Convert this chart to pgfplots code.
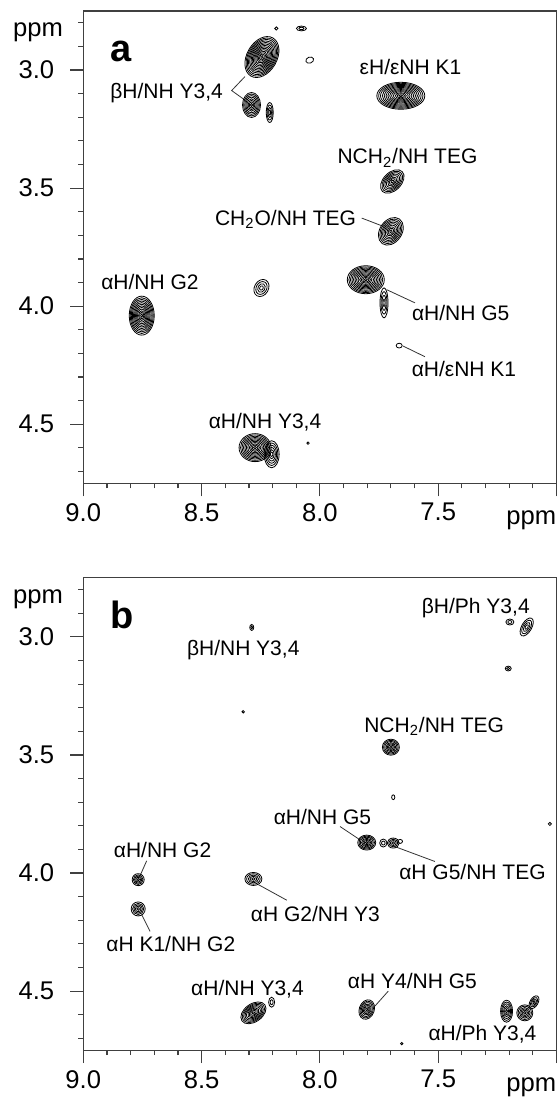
\documentclass[border=0pt]{standalone}
\usepackage{fontspec}
\setmainfont{Liberation Sans}
\usepackage{pgfplots}
\usepackage{pgfplotstable}
\pgfplotsset{compat=1.18}

% one peak = a few concentric ellipses (sizes in pt)
\pgfdeclareplotmark{peak}{%
  \pgfmathsetmacro\pca{cos(\pang)}%
  \pgfmathsetmacro\psa{sin(\pang)}%
  \foreach \k in {1,...,\pn}{%
    \pgfmathsetmacro\pf{\k/\pn}%
    \pgfpathellipse{\pgfpointorigin}%
      {\pgfpoint{\pf*\prx*\pca pt}{\pf*\prx*\psa pt}}%
      {\pgfpoint{-\pf*\pry*\psa pt}{\pf*\pry*\pca pt}}%
    \pgfusepathqstroke
  }%
}

% x y rx ry ang n
\pgfplotstableread{
x y rx ry ang n
8.245 2.945 11 7.5 60 14
8.289 3.148 4.5 6.25 0 8
8.212 3.180 1.75 5 0 4
8.184 2.824 0.8 0.8 0 1
8.078 2.824 2.5 1.2 0 2
8.043 2.958 2 1.5 20 1
7.658 3.109 12 6.75 0 13
7.694 3.472 7 4.5 45 8
7.700 3.683 7.5 5.5 55 9
7.806 3.888 9.25 7 0 12
7.729 3.986 2 7.5 0 4
8.247 3.923 4.5 3.5 60 4
7.665 4.167 1.5 1.2 0 1
8.753 4.040 6.25 9.75 0 12
8.274 4.599 8 7 0 11
8.204 4.627 3.75 6.75 0 6
8.050 4.580 0.6 0.6 0 1
}\peaksA

\pgfplotstableread{
x y rx ry ang n
8.288 2.960 1 1.5 0 2
8.324 3.317 0.6 0.6 0 1
7.126 2.958 5 2.5 60 4
7.197 2.937 2 1.5 0 2
7.204 3.134 1.5 1.2 0 2
7.700 3.467 4.25 4 0 7
7.690 3.679 0.8 1.2 0 1
7.802 3.871 4.5 3.75 0 7
7.690 3.873 3 2.5 0 4
7.732 3.873 1.8 2 0 2
7.661 3.866 1.2 1 0 1
7.028 3.792 0.8 0.8 0 1
8.281 4.025 4.25 3.25 0 5
8.768 4.028 3 3 0 5
8.768 4.152 3.5 3.5 0 5
8.281 4.592 7 4.5 35 9
8.204 4.547 1.5 2.5 0 2
7.802 4.578 3.75 5 -20 7
7.211 4.585 3 5.5 0 6
7.134 4.592 4 4 0 6
7.095 4.547 2 3.5 -30 4
7.654 4.722 0.6 0.6 0 1
}\peaksB

\pgfplotsset{
  nmr/.style={
    scale only axis, width=236.6pt, height=236.15pt,
    anchor=center,
    x dir=reverse, y dir=reverse,
    xmin=7.0, xmax=9.0, ymin=2.75, ymax=4.75,
    xtick={7.0,7.5,8.0,8.5,9.0}, xticklabels={,7.5,8.0,8.5,9.0},
    ytick={3.0,3.5,4.0,4.5}, yticklabels={3.0,3.5,4.0,4.5},
    minor xtick={7.1,7.2,7.3,7.4,7.6,7.7,7.8,7.9,8.1,8.2,8.3,8.4,8.6,8.7,8.8,8.9},
    minor ytick={2.8,2.9,3.1,3.2,3.3,3.4,3.6,3.7,3.8,3.9,4.1,4.2,4.3,4.4,4.6,4.7},
    xtick pos=left, ytick pos=left,
    tick align=outside,
    major tick length=6.5pt, minor tick length=2.5pt,
    axis line style={black!75, line width=0.6pt},
    tick style={black!75, line width=0.6pt},
    tick label style={font=\fontsize{12.8}{14}\selectfont, text=black},
    yticklabel style={xshift=-4.5pt},
    /pgf/number format/assume math mode=true,
    clip=false,
  },
  peaks/.style={
    scatter, only marks, mark=peak,
    mark options={line width=0.4pt, draw=black},
    visualization depends on={\thisrow{rx}\as\prx},
    visualization depends on={\thisrow{ry}\as\pry},
    visualization depends on={\thisrow{ang}\as\pang},
    visualization depends on={\thisrow{n}\as\pn},
    scatter/@pre marker code/.code={},
    scatter/@post marker code/.code={},
  },
}
\tikzset{
  lab/.style={font=\fontsize{10.5}{12}\selectfont, inner sep=0pt, text height=7.5pt, text depth=0pt, anchor=center},
  lead/.style={line width=0.4pt, black!80},
  panel/.style={anchor=base west, inner sep=0pt, font=\bfseries\fontsize{19}{20}\selectfont},
  ppm/.style={inner sep=0pt, font=\fontsize{12.8}{14}\selectfont},
}

\begin{document}
\begin{tikzpicture}
\useasboundingbox (-41.65pt,-306.85pt) rectangle (237.85pt,241.65pt);

\begin{axis}[nmr, at={(118.3pt,118.08pt)}]
\addplot[peaks] table[x=x, y=y] {\peaksA};
\node[panel] at (axis cs:8.887,2.965) {a};
\node[ppm, anchor=base east, xshift=-10pt] at (axis cs:9.0,2.857) {ppm};
\node[ppm, anchor=base east, yshift=-20.6pt] at (axis cs:7.0,4.75) {ppm};
\node[lab] at (axis cs:8.648,3.089) {βH/NH Y3,4};
\node[lab] at (axis cs:7.617,2.986) {εH/εNH K1};
\node[lab] at (axis cs:7.630,3.366) {NCH\textsubscript{2}/NH TEG};
\node[lab] at (axis cs:8.145,3.627) {CH\textsubscript{2}O/NH TEG};
\node[lab] at (axis cs:8.718,3.898) {αH/NH G2};
\node[lab] at (axis cs:7.405,4.028) {αH/NH G5};
\node[lab] at (axis cs:7.391,4.268) {αH/εNH K1};
\node[lab] at (axis cs:8.232,4.486) {αH/NH Y3,4};
\draw[lead] (axis cs:8.317,3.028) -- (axis cs:8.373,3.087) -- (axis cs:8.317,3.127);
\draw[lead] (axis cs:7.823,3.627) -- (axis cs:7.732,3.662);
\draw[lead] (axis cs:7.718,3.930) -- (axis cs:7.598,3.986);
\draw[lead] (axis cs:7.648,4.169) -- (axis cs:7.556,4.214);
\end{axis}

\begin{axis}[nmr, at={(118.3pt,-165.35pt)}]
\addplot[peaks] table[x=x, y=y] {\peaksB};
\node[panel] at (axis cs:8.887,2.964) {b};
\node[ppm, anchor=base east, xshift=-10pt] at (axis cs:9.0,2.857) {ppm};
\node[ppm, anchor=base east, yshift=-20.6pt] at (axis cs:7.0,4.75) {ppm};
\node[lab] at (axis cs:8.324,3.045) {βH/NH Y3,4};
\node[lab] at (axis cs:7.341,2.869) {βH/Ph Y3,4};
\node[lab] at (axis cs:7.517,3.372) {NCH\textsubscript{2}/NH TEG};
\node[lab] at (axis cs:7.989,3.763) {αH/NH G5};
\node[lab] at (axis cs:7.355,3.997) {αH G5/NH TEG};
\node[lab] at (axis cs:8.665,3.904) {αH/NH G2};
\node[lab] at (axis cs:8.630,4.301) {αH K1/NH G2};
\node[lab] at (axis cs:8.019,4.173) {αH G2/NH Y3};
\node[lab] at (axis cs:8.306,4.488) {αH/NH Y3,4};
\node[lab] at (axis cs:7.609,4.456) {αH Y4/NH G5};
\node[lab] at (axis cs:7.313,4.678) {αH/Ph Y3,4};
\draw[lead] (axis cs:7.915,3.803) -- (axis cs:7.831,3.859);
\draw[lead] (axis cs:7.683,3.888) -- (axis cs:7.514,3.951);
\draw[lead] (axis cs:8.732,3.948) -- (axis cs:8.760,4.011);
\draw[lead] (axis cs:8.753,4.176) -- (axis cs:8.718,4.247);
\draw[lead] (axis cs:8.260,4.049) -- (axis cs:8.140,4.115);
\draw[lead] (axis cs:7.711,4.500) -- (axis cs:7.767,4.563);
\end{axis}
\end{tikzpicture}
\end{document}
